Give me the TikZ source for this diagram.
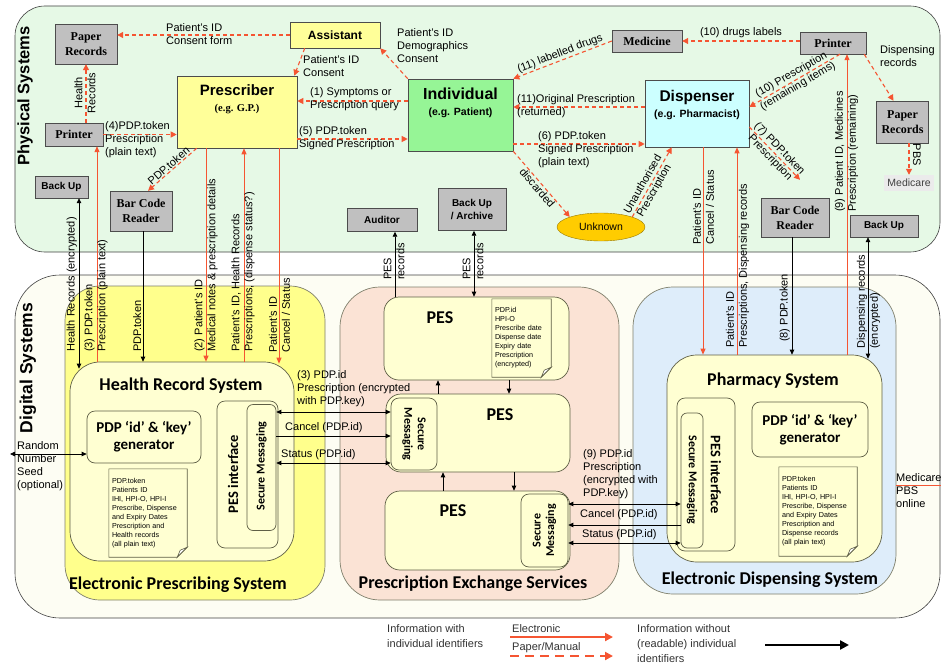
\documentclass[tikz,border=0pt]{standalone}
\usepackage{fontspec}
\setmainfont{Liberation Sans}
\newfontfamily\tnrfont{Liberation Serif}
\newfontfamily\calfont{Carlito}
\usetikzlibrary{arrows.meta,positioning,shapes.geometric,calc}

\definecolor{physbg}{RGB}{230,249,230}
\definecolor{digibg}{RGB}{253,253,243}
\definecolor{boxgray}{RGB}{192,192,192}
\definecolor{presyel}{RGB}{255,255,153}
\definecolor{indgreen}{RGB}{150,245,150}
\definecolor{dispcyan}{RGB}{204,255,255}
\definecolor{unkgold}{RGB}{255,204,0}
\definecolor{epsyel}{RGB}{255,255,140}
\definecolor{pesbg}{RGB}{251,227,213}
\definecolor{edsbg}{RGB}{222,237,250}
\definecolor{cream}{RGB}{255,255,210}
\definecolor{boxedge}{RGB}{95,95,70}
\definecolor{arrred}{RGB}{245,85,50}

\tikzset{
  panel/.style={draw=black!75, line width=0.6pt},
  graybox/.style={draw=black!70, fill=boxgray, align=center, inner sep=1pt,
    font=\tnrfont\bfseries\fontsize{12}{15}\selectfont},
  grayboxs/.style={graybox, font=\bfseries\fontsize{10}{13}\selectfont},
  actor/.style={draw=black!70, line width=0.6pt},
  actorname/.style={align=center, inner sep=0pt, font=\bfseries\fontsize{10.5}{16}\selectfont},
  sysbox/.style={draw=boxedge, fill=cream, line width=0.7pt},
  systitle/.style={font=\calfont\bfseries\fontsize{18}{20}\selectfont, inner sep=0pt},
  gentext/.style={font=\calfont\bfseries\fontsize{15}{17}\selectfont, align=center},
  smtext/.style={font=\calfont\bfseries\fontsize{12}{13.5}\selectfont, align=center, inner sep=0pt},
  lbl/.style={font=\fontsize{11}{13}\selectfont, align=left, inner sep=0pt},
  notetext/.style={fill=cream, font=\fontsize{7.2}{9}\selectfont, align=left, inner sep=3pt},
  paperarr/.style={draw=arrred, line width=1.1pt, dash pattern=on 4pt off 3pt,
    -{Triangle[length=6pt,width=6pt]}},
  elecarr/.style={draw=arrred, line width=0.9pt, -{Triangle[length=6pt,width=5pt]}},
  infoarr/.style={draw=black, line width=0.8pt, -{Triangle[length=5pt,width=4.5pt]}},
  infoboth/.style={infoarr, {Triangle[length=5pt,width=4.5pt]}-{Triangle[length=5pt,width=4.5pt]}},
}

% page outline with a folded corner, drawn over a note node
\newcommand\dogear[1]{%
  \draw[boxedge, line width=0.6pt] (#1.north west) -- (#1.north east)
    -- ([yshift=10pt]#1.south east) -- ([xshift=-10pt]#1.south east)
    -- (#1.south west) -- cycle;
  \draw[boxedge, line width=0.6pt, fill=white] ([yshift=10pt]#1.south east)
    -- ([xshift=-7pt,yshift=7pt]#1.south east) -- ([xshift=-10pt]#1.south east) -- cycle;
}

\begin{document}
\begin{tikzpicture}[x=1pt,y=-1pt]
\useasboundingbox (0,0) rectangle (941,669);

% x and y positions of the connectors
\path (79,0) coordinate (x79) (97,0) coordinate (x97) (143,0) coordinate (x143)
  (206,0) coordinate (x206) (244,0) coordinate (x244) (279,0) coordinate (x279)
  (395,0) coordinate (x395) (438,0) coordinate (x438) (443,0) coordinate (x443)
  (474,0) coordinate (x474) (509,0) coordinate (x509) (514,0) coordinate (x514)
  (703,0) coordinate (x703) (737,0) coordinate (x737) (792,0) coordinate (x792)
  (847,0) coordinate (x847) (868,0) coordinate (x868);
\path (0,412) coordinate (y412) (0,436) coordinate (y436) (0,463) coordinate (y463)
  (0,504) coordinate (y504) (0,525) coordinate (y525) (0,543) coordinate (y543);

% the two layers
\node[panel, fill=physbg, rounded corners=30pt, minimum width=925pt, minimum height=246pt] (phys) at (477.5,129) {};
\node[panel, fill=digibg, rounded corners=45pt, minimum width=925pt, minimum height=343pt] (digi) at (477.5,446.5) {};
\node[rotate=90, font=\bfseries\fontsize{16.5}{18}\selectfont] (physlbl) at (25,96) {Physical Systems};
\node[rotate=90, font=\bfseries\fontsize{17.5}{19}\selectfont] (digilbl) at (28,368) {Digital Systems};

% physical systems
\node[graybox, minimum width=62pt, minimum height=40pt] (paperL) at (86,44) {Paper\\Records};
\node[actor, fill=presyel, minimum width=90pt, minimum height=26pt, font=\bfseries\fontsize{12}{14}\selectfont] (assistant) at (335,35) {Assistant};
\node[actor, fill=presyel, minimum width=120pt, minimum height=72pt] (prescriber) at (237,112) {};
\node[actorname, below=9pt of prescriber.north] (prescribername)
  {{\fontsize{15}{16}\selectfont Prescriber}\\{\tnrfont (e.g. G.P.)}};
\node[actor, fill=indgreen, minimum width=105pt, minimum height=72pt] (individual) at (460.5,115) {};
\node[actorname, below=9pt of individual.north] (individualname)
  {{\fontsize{16}{16}\selectfont Individual}\\(e.g. Patient)};
\node[graybox, minimum width=70pt, minimum height=22pt] (medicine) at (647,41) {Medicine};
\node[graybox, minimum width=66pt, minimum height=22pt] (printerR) at (833,43) {Printer};
\node[actor, fill=dispcyan, minimum width=104pt, minimum height=67pt] (dispenser) at (697,113.5) {};
\node[actorname, below=10pt of dispenser.north] (dispensername)
  {{\fontsize{15.5}{16}\selectfont Dispenser}\\(e.g. Pharmacist)};
\node[graybox, minimum width=52pt, minimum height=42pt] (paperR) at (902.5,122) {Paper\\Records};
\node[fill=black!8, minimum width=50pt, minimum height=16pt, inner sep=1pt, text=black!75,
  font=\fontsize{10.5}{12}\selectfont] (medicare) at (909,183) {Medicare};
\node[graybox, minimum width=58pt, minimum height=23pt] (printerL) at (74,134.5) {Printer};
\node[grayboxs, minimum width=53pt, minimum height=22pt] (backupL) at (61.5,187) {Back Up};
\node[graybox, minimum width=62pt, minimum height=40pt] (barcodeL) at (141,211) {Bar Code\\Reader};
\node[grayboxs, minimum width=70pt, minimum height=23pt] (auditor) at (382,220) {Auditor};
\node[grayboxs, minimum width=68pt, minimum height=42pt] (archive) at (472,209.5) {Back Up\\/ Archive};
\node[ellipse, draw=black!40!unkgold, fill=unkgold, minimum width=88pt, minimum height=28pt,
  font=\fontsize{10.5}{12}\selectfont] (unknown) at (601,227) {Unknown};
\node[graybox, minimum width=68pt, minimum height=39pt] (barcodeR) at (795,217.5) {Bar Code\\Reader};
\node[grayboxs, minimum width=68pt, minimum height=22pt] (backupR) at (884,226) {Back Up};

% electronic prescribing
\node[draw=boxedge!80, fill=epsyel, line width=0.7pt, rounded corners=35pt, minimum width=260pt, minimum height=314pt] (eps) at (195,443) {};
\node[sysbox, rounded corners=30pt, minimum width=224pt, minimum height=199pt] (hrs) at (182,461.5) {};
\node[systitle] (hrstitle) at (181,386) {Health Record System};
\node[sysbox, gentext, rounded corners=8pt, minimum width=114pt, minimum height=52pt] (hrsgen) at (144,437) {PDP ‘id’ \& ‘key’\\generator};
\node[notetext, text width=72pt, minimum height=88pt] (hrsnote) at (148,513)
  {PDP.token\\Patients ID\\IHI, HPI-O, HPI-I\\Prescribe, Dispense\\and Expiry Dates\\Prescription and\\Health records\\(all plain text)};
\dogear{hrsnote}
\node[sysbox, rounded corners=8pt, minimum width=61pt, minimum height=147pt] (hrspes) at (247.5,474.5) {};
\node[rotate=90, font=\calfont\bfseries\fontsize{14.5}{16}\selectfont] (hrspeslbl) at (233,474) {PES interface};
\node[sysbox, rounded corners=6pt, minimum width=29pt, minimum height=126pt] (hrssm) at (261.5,467.5) {};
\node[smtext, rotate=90] (hrssmlbl) at (261.5,466) {Secure Messaging};
\node[systitle] (epstitle) at (178,585) {Electronic Prescribing System};

% prescription exchange
\node[draw=boxedge!80, fill=pesbg, line width=0.7pt, rounded corners=40pt, minimum width=279pt, minimum height=313pt] (pes) at (479.5,443.5) {};
\node[sysbox, rounded corners=15pt, minimum width=185pt, minimum height=83pt] (pes1) at (476.5,338.5) {};
\node[systitle] (pes1lbl) at (440,318) {PES};
\node[notetext, text width=53pt, minimum height=78pt] (pesnote) at (521.5,338)
  {PDP.id\\HPI-O\\Prescribe date\\Dispense date\\Expiry date\\Prescription\\(encrypted)};
\dogear{pesnote}
\node[sysbox, rounded corners=15pt, minimum width=184pt, minimum height=78pt] (pes2) at (478,433) {};
\node[systitle] (pes2lbl) at (500,415) {PES};
\node[sysbox, rounded corners=8pt, minimum width=46pt, minimum height=72pt] (pes2sm) at (414,434) {};
\node[smtext, rotate=-90] (pes2smlbl) at (414,434) {Secure\\Messaging};
\node[sysbox, rounded corners=15pt, minimum width=185pt, minimum height=79pt] (pes3) at (477.5,530.5) {};
\node[systitle] (pes3lbl) at (453,511) {PES};
\node[sysbox, rounded corners=8pt, minimum width=47pt, minimum height=73pt] (pes3sm) at (544.5,530.5) {};
\node[smtext, rotate=90] (pes3smlbl) at (544.5,530.5) {Secure\\Messaging};
\node[systitle] (pestitle) at (473,584) {Prescription Exchange Services};

% electronic dispensing
\node[draw=boxedge!80, fill=edsbg, line width=0.7pt, rounded corners=40pt, minimum width=263pt, minimum height=307pt] (eds) at (764.5,440.5) {};
\node[sysbox, rounded corners=30pt, minimum width=215pt, minimum height=207pt] (phs) at (774.5,458.5) {};
\node[systitle] (phstitle) at (773,381) {Pharmacy System};
\node[sysbox, gentext, rounded corners=8pt, minimum width=116pt, minimum height=55pt] (phsgen) at (810,429.5) {PDP ‘id’ \& ‘key’\\generator};
\node[notetext, text width=72pt, minimum height=89pt] (phsnote) at (818,511.5)
  {PDP.token\\Patients ID\\IHI, HPI-O, HPI-I\\Prescribe, Dispense\\and Expiry Dates\\Prescription and\\Dispense records\\(all plain text)};
\dogear{phsnote}
\node[sysbox, rounded corners=8pt, minimum width=58pt, minimum height=153pt] (phspes) at (706,474.5) {};
\node[rotate=-90, font=\calfont\bfseries\fontsize{14.5}{16}\selectfont] (phspeslbl) at (716,475) {PES interface};
\node[sysbox, rounded corners=6pt, minimum width=22pt, minimum height=135pt] (phssm) at (692,480.5) {};
\node[smtext, rotate=-90] (phssmlbl) at (692,480) {Secure Messaging};
\node[systitle] (edstitle) at (770,580) {Electronic Dispensing System};

% paper / manual flows
\draw[paperarr] (assistant.west) -- (paperL.east |- assistant.west);
\node[lbl, anchor=west] (l1) at (166,34.5) {Patient's ID\\Consent form};
\draw[paperarr] ([xshift=15pt]assistant.south west) -- ([xshift=-3pt]prescriber.north east);
\node[lbl, anchor=west] (l2) at (303,66) {Patient's ID\\Consent};
\draw[paperarr] (individual.north west) -- (assistant.south east);
\node[lbl, anchor=west] (l3) at (397,46) {Patient's ID\\Demographics\\Consent};
\draw[paperarr] ([yshift=14pt]individual.west) -- ([yshift=14pt]individual.west -| prescriber.east);
\node[lbl, anchor=west] (l4) at (310,99.5) {(1) Symptoms or\\Prescription query};
\draw[paperarr] ([yshift=-27pt]prescriber.east) -- ([yshift=-27pt]prescriber.east -| individual.west);
\node[lbl, anchor=west] (l5) at (299,138.5) {(5) PDP.token\\Signed Prescription};
\draw[paperarr] (printerL.east) -- (printerL.east -| prescriber.west);
\node[lbl, anchor=west] (l6) at (105,140) {(4)PDP.token\\Prescription\\(plain text)};
\draw[paperarr] (printerL.north -| paperL.south) -- (paperL.south);
\node[lbl, rotate=90, align=center] (l7) at (85,93) {Health\\Records};
\draw[paperarr] ([xshift=20pt]prescriber.south west) -- ([xshift=7pt]barcodeL.north)
  node[lbl, midway, sloped, above=1pt] (l8) {PDP.token};
\draw[paperarr] (medicine.west) -- (individual.north east)
  node[lbl, midway, sloped, above=1pt] (l9) {(11) labelled drugs};
\draw[paperarr] (printerR.west |- medicine.east) -- (medicine.east)
  node[lbl, midway, above=3pt] (l10) {(10) drugs labels};
\draw[paperarr] ([xshift=7pt]printerR.south) -- ([yshift=6.5pt]dispenser.east)
  node[lbl, midway, sloped, align=center] (l11) {(10) Prescription\\(remaining items)};
\draw[paperarr] ([xshift=-2pt]printerR.south east) -- ([xshift=-9pt]paperR.north);
\node[lbl, anchor=west] (l12) at (880,56.5) {Dispensing\\records};
\draw[paperarr] (paperR.south -| medicare.north) -- (medicare.north);
\node[lbl, rotate=-90] (l13) at (917,155) {PBS};
\draw[paperarr] ([yshift=6.5pt]dispenser.west) -- ([yshift=6.5pt]dispenser.west -| individual.east);
\node[lbl, anchor=west] (l14) at (517,106.5) {(11)Original Prescription\\(returned)};
\draw[paperarr] ([yshift=-29pt]individual.east) -- ([yshift=-29pt]individual.east -| dispenser.west);
\node[lbl, anchor=north west] (l15) at (538,131) {(6) PDP.token\\Signed Prescription\\(plain text)};
\draw[paperarr] (individual.south east) -- (unknown.north west)
  node[lbl, midway, sloped, below=1pt] (l16) {discarded};
\draw[paperarr] (unknown.north east) -- ([xshift=27pt]dispenser.south west)
  node[lbl, pos=0.42, sloped, align=center] (l17) {Unauthorised\\Prescription};
\coordinate (bcend) at ([xshift=5pt,yshift=18pt]barcodeR.north);
\draw[paperarr] ([yshift=-13.5pt]dispenser.east) -- (bcend)
  node[lbl, midway, sloped, align=center] (l18) {(7) PDP.token\\Prescription};

% links between the layers
\draw[elecarr] (hrs.north -| x97) -- (printerL.south -| x97);
\node[lbl, rotate=90, anchor=west] (l19) at (96,352) {(3) PDP.token\\Prescription (plain text)};
\draw[infoboth] (backupL.south -| x79) -- ($(hrs.north -| x79)+(0,7)$);
\node[lbl, rotate=90, anchor=south west] (l20) at (77,352) {Health Records (encrypted)};
\draw[infoarr] (barcodeL.south -| x143) -- (hrs.north -| x143);
\node[lbl, rotate=90, anchor=south west] (l21) at (141.5,352) {PDP.token};
\draw[elecarr] (prescriber.south -| x206) -- (hrs.north -| x206);
\node[lbl, rotate=90, anchor=west] (l22) at (206,352) {(2) Patient's ID\\Medical notes \& prescription details};
\draw[elecarr] (hrs.north -| x244) -- (prescriber.south -| x244);
\node[lbl, rotate=90, anchor=west] (l23) at (243,352) {Patient's ID, Health Records\\Prescriptions, (dispense status?)};
\draw[elecarr] (prescriber.south -| x279) -- ($(hrs.north -| x279)+(0,2)$);
\node[lbl, rotate=90, anchor=west] (l24) at (279.5,353) {Patient's ID\\Cancel / Status};
\draw[infoarr] (pes1.north -| x395) -- (auditor.south -| x395);
\node[lbl, rotate=90, anchor=west] (l25) at (394,280) {PES\\records};
\draw[infoboth] (pes1.north -| x474) -- (archive.south -| x474);
\node[lbl, rotate=90, anchor=west] (l26) at (473,280) {PES\\records};
\draw[elecarr] (dispenser.south -| x703) -- (phs.north -| x703);
\node[lbl, rotate=90, anchor=west] (l27) at (703.5,245) {Patient's ID\\Cancel / Status};
\draw[elecarr] (phs.north -| x737) -- (dispenser.south -| x737);
\node[lbl, rotate=90, anchor=west] (l28) at (737.5,348) {Patient's ID\\Prescriptions, Dispensing records};
\draw[infoarr] (barcodeR.south -| x792) -- (phs.north -| x792);
\node[lbl, rotate=90, anchor=south west] (l29) at (790,342) {(8) PDP.token};
\draw[elecarr] (phs.north -| x847) -- (printerR.south -| x847);
\node[lbl, rotate=90, anchor=west] (l30) at (846.5,212) {(9) Patient ID, Medicines\\Prescription (remaining)};
\draw[infoboth] (backupR.south -| x868) -- ($(phs.north -| x868)+(0,4)$);
\node[lbl, rotate=90, anchor=west] (l31) at (868.5,349) {Dispensing records\\(encrypted)};

% secure messaging
\draw[infoboth] (hrssm.east |- y412) -- (pes2sm.west |- y412);
\node[lbl, anchor=west] (l32) at (297,389) {(3) PDP.id\\Prescription (encrypted\\with PDP.key)};
\draw[infoarr] (hrssm.east |- y436) -- (pes2sm.west |- y436);
\node[lbl, anchor=west] (l33) at (285,428) {Cancel (PDP.id)};
\draw[infoboth] (hrssm.east |- y463) -- (pes2sm.west |- y463);
\node[lbl, anchor=west] (l34) at (281,455) {Status (PDP.id)};
\draw[infoboth] (pes3sm.east |- y504) -- (phssm.west |- y504);
\node[lbl, anchor=west] (l35) at (583,474.5) {(9) PDP.id\\Prescription\\(encrypted with\\PDP.key)};
\draw[infoarr] (phssm.west |- y525) -- (pes3sm.east |- y525);
\node[lbl, anchor=west] (l36) at (580,515) {Cancel (PDP.id)};
\draw[infoboth] (pes3sm.east |- y543) -- (phssm.west |- y543);
\node[lbl, anchor=west] (l37) at (582,535) {Status (PDP.id)};
\draw[infoarr] (pes2.north -| x438) -- (pes1.south -| x438);
\draw[infoarr] (pes1.south -| x509) -- (pes2.north -| x509);
\draw[infoarr] (pes3.north -| x443) -- (pes2.south -| x443);
\draw[infoarr] (pes2.south -| x514) -- (pes3.north -| x514);

% outside inputs
\coordinate (seed) at (10,454);
\draw[infoboth] (seed) -- (hrsgen.west |- seed);
\node[lbl, anchor=north west] (l38) at (17,441) {Random\\Number\\Seed\\(optional)};
\coordinate (pbsend) at (941,485);
\draw[arrred, line width=0.9pt] (eds.east |- pbsend) -- (pbsend);
\node[lbl, anchor=north west] (l39) at (896,473) {Medicare\\PBS\\online};

% legend
\path (510,637) coordinate (legE1) (613,637) coordinate (legE2)
  (510,656) coordinate (legP1) (613,656) coordinate (legP2)
  (765,645) coordinate (legI1) (849,645) coordinate (legI2);
\node[lbl, anchor=north west, text=black!80, font=\fontsize{11}{15}\selectfont] (leg1) at (387,624) {Information with\\individual identifiers};
\node[lbl, anchor=west, text=black!80] (leg2) at (512,629) {Electronic};
\draw[arrred, line width=2.2pt, -{Triangle[length=8pt,width=8pt]}] (legE1) -- (legE2);
\node[lbl, anchor=west, text=black!80] (leg3) at (512,648) {Paper/Manual};
\draw[arrred, line width=2.2pt, dash pattern=on 9pt off 6pt, -{Triangle[length=8pt,width=8pt]}] (legP1) -- (legP2);
\node[lbl, anchor=north west, text=black!80, font=\fontsize{11}{15}\selectfont] (leg4) at (637,624) {Information without\\(readable) individual\\identifiers};
\draw[black, line width=2.6pt, -{Triangle[length=9pt,width=9pt]}] (legI1) -- (legI2);
\end{tikzpicture}
\end{document}
